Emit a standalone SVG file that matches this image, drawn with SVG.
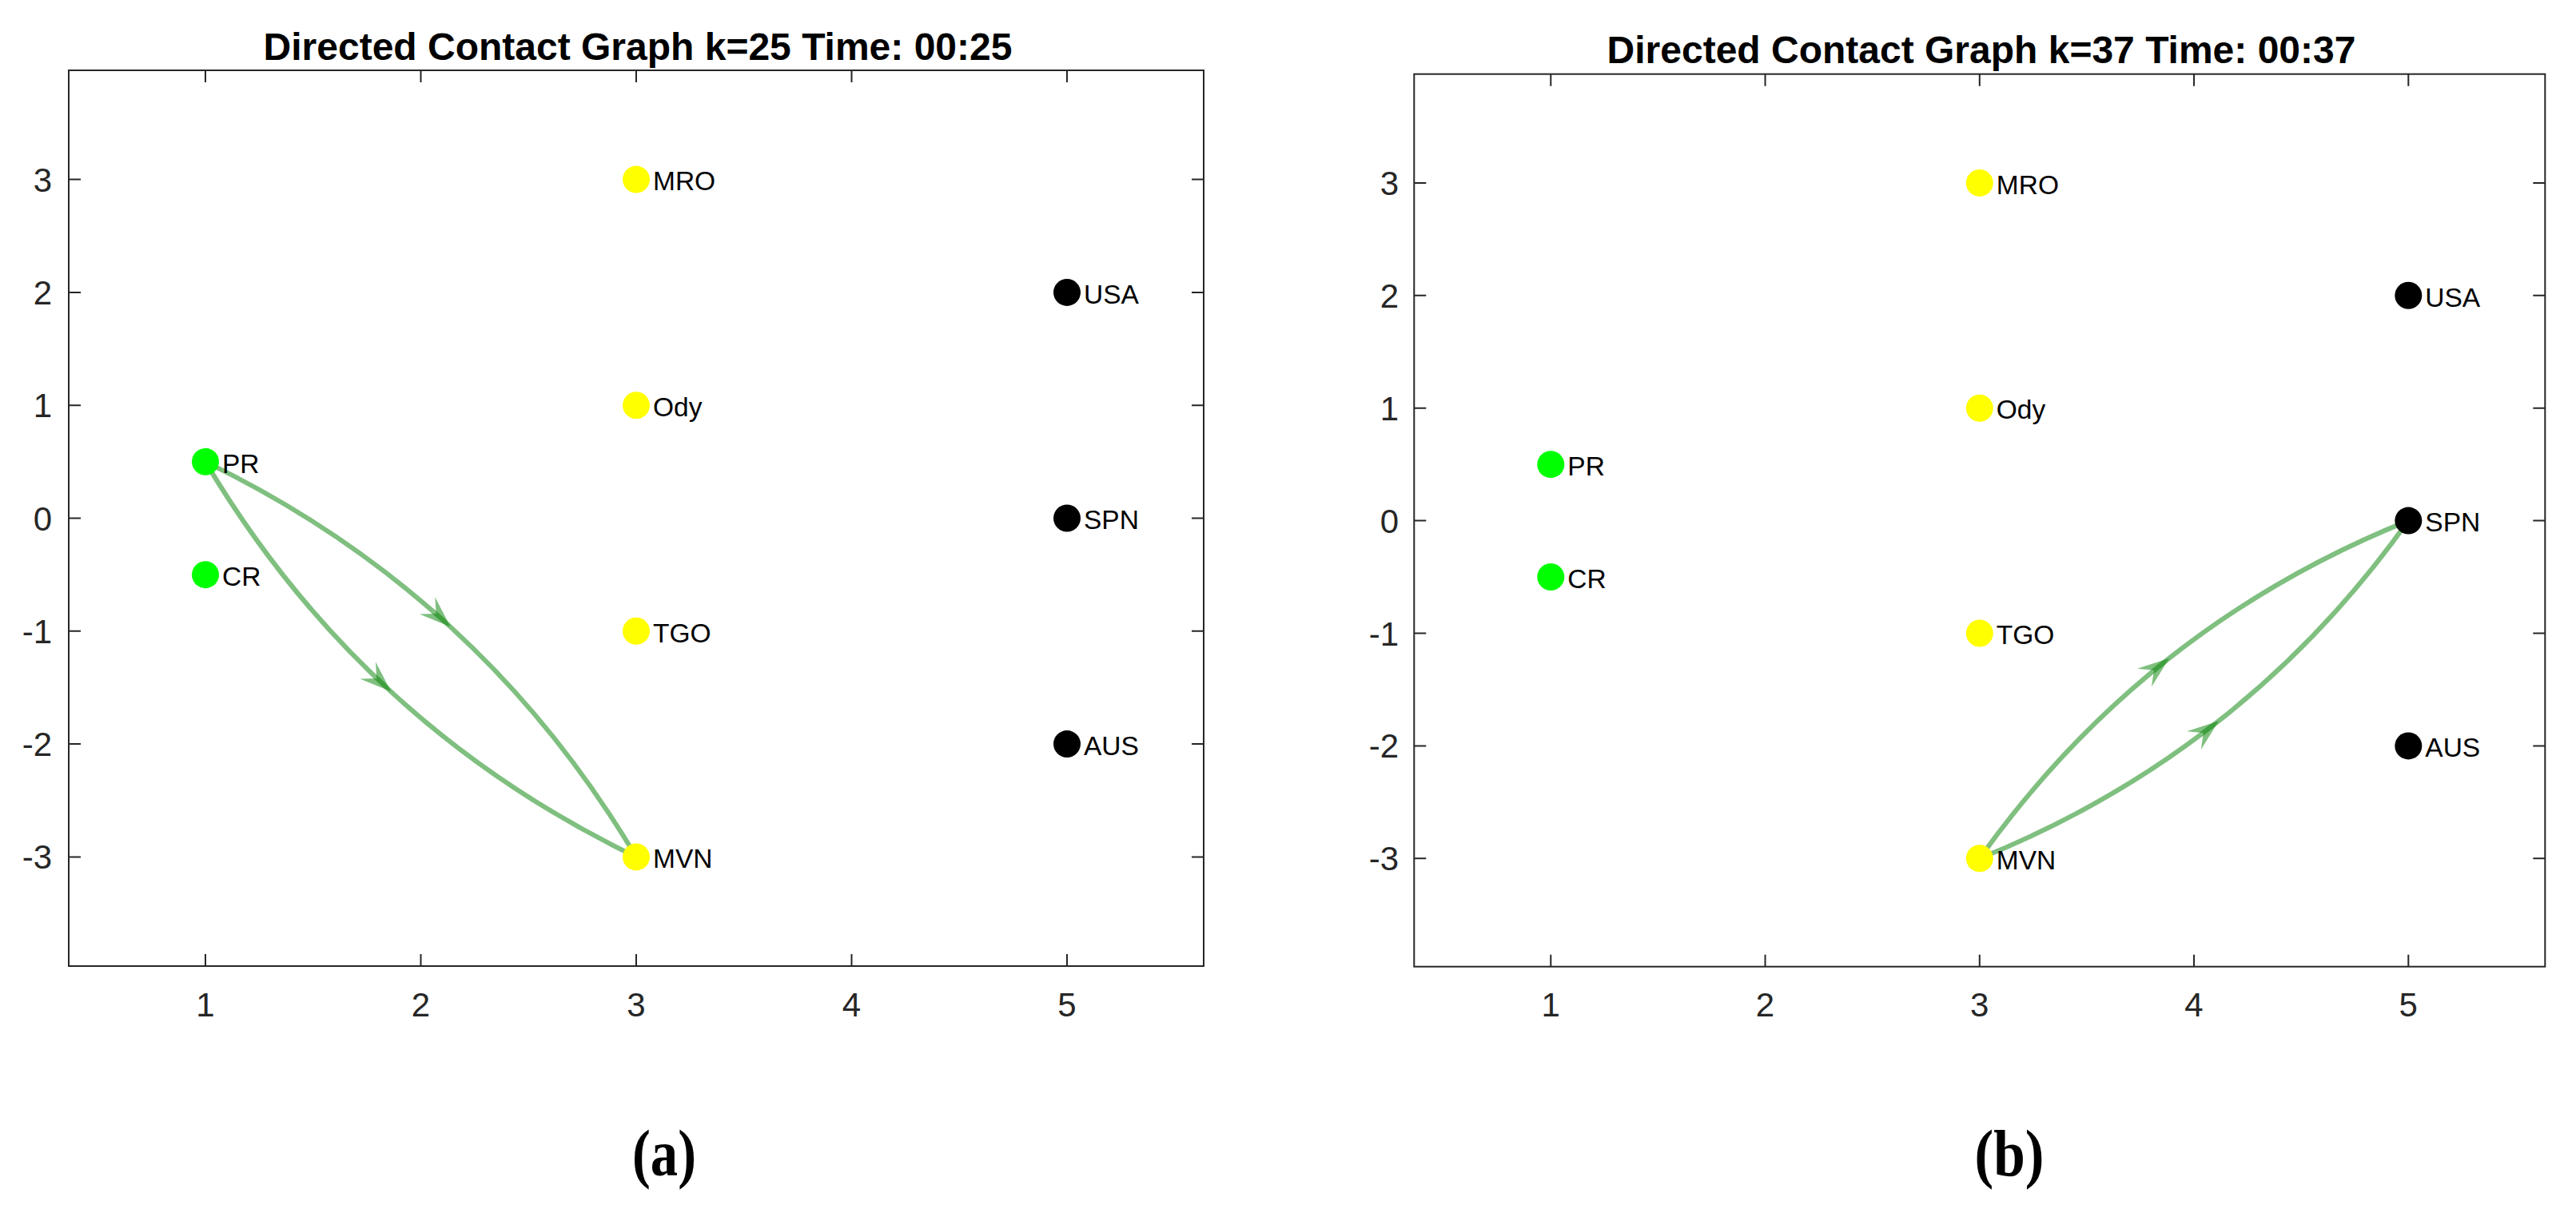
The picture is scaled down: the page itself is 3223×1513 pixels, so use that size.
<svg xmlns="http://www.w3.org/2000/svg" width="3223" height="1513" viewBox="0 0 3223 1513">
<style>
.bg{fill:#ffffff}
.ax{fill:none;stroke:#262626;stroke-width:2}
.tk{fill:none;stroke:#262626;stroke-width:2}
.tl{font-family:"Liberation Sans",Arial,sans-serif;font-size:42px;fill:#262626}
.tx{text-anchor:middle}
.ty{text-anchor:end}
.title{font-family:"Liberation Sans",Arial,sans-serif;font-size:48px;font-weight:bold;fill:#000;text-anchor:middle}
.lbl{font-family:"Liberation Sans",Arial,sans-serif;font-size:33.5px;fill:#000}
.edge{fill:none;stroke:#008000;stroke-opacity:0.5;stroke-width:6;marker-mid:url(#arr)}
.cap{font-family:"Liberation Serif","Times New Roman",serif;font-weight:bold;font-size:83px;fill:#000;text-anchor:middle}
.g{fill:#00ff00}
.y{fill:#ffff00}
.k{fill:#000000}
</style>
<defs>
<marker id="arr" markerUnits="userSpaceOnUse" orient="auto" overflow="visible" markerWidth="1" markerHeight="1" refX="0" refY="0">
<path d="M0,0 L-39.5,-14.4 L-24.5,0 L-39.5,14.4 Z" fill="#008000" fill-opacity="0.5"/>
</marker>
</defs>
<rect class="bg" x="0" y="0" width="3223" height="1513"/>

<!-- Panel (a) axes -->
<g id="axes-a">
<text class="title" x="798" y="75">Directed Contact Graph k=25 Time: 00:25</text>
<rect class="ax" x="86" y="88" width="1420" height="1121"/>
<path class="tk" d="M257,88v15M526.5,88v15M796,88v15M1065.5,88v15M1335,88v15
M257,1209v-15M526.5,1209v-15M796,1209v-15M1065.5,1209v-15M1335,1209v-15
M86,224.6h15M86,365.9h15M86,507.2h15M86,648.5h15M86,789.8h15M86,931.1h15M86,1072.4h15
M1506,224.6h-15M1506,365.9h-15M1506,507.2h-15M1506,648.5h-15M1506,789.8h-15M1506,931.1h-15M1506,1072.4h-15"/>
<g class="tl tx">
<text x="257" y="1272">1</text>
<text x="526.5" y="1272">2</text>
<text x="796" y="1272">3</text>
<text x="1065.5" y="1272">4</text>
<text x="1335" y="1272">5</text>
</g>
<g class="tl ty">
<text x="65" y="239.6">3</text>
<text x="65" y="380.9">2</text>
<text x="65" y="522.2">1</text>
<text x="65" y="663.5">0</text>
<text x="65" y="804.8">-1</text>
<text x="65" y="946.1">-2</text>
<text x="65" y="1087.4">-3</text>
</g>
<text class="cap" x="831" y="1471" textLength="80" lengthAdjust="spacingAndGlyphs">(a)</text>
</g>

<!-- Panel (b) axes -->
<g id="axes-b">
<text class="title" x="2479" y="79">Directed Contact Graph k=37 Time: 00:37</text>
<rect class="ax" x="1769.3" y="92.7" width="1415" height="1117"/>
<path class="tk" d="M1940.3,92.7v15M2208.55,92.7v15M2476.8,92.7v15M2745.05,92.7v15M3013.3,92.7v15
M1940.3,1209.7v-15M2208.55,1209.7v-15M2476.8,1209.7v-15M2745.05,1209.7v-15M3013.3,1209.7v-15
M1769.3,228.9h15M1769.3,369.8h15M1769.3,510.7h15M1769.3,651.6h15M1769.3,792.5h15M1769.3,933.4h15M1769.3,1074.3h15
M3184.3,228.9h-15M3184.3,369.8h-15M3184.3,510.7h-15M3184.3,651.6h-15M3184.3,792.5h-15M3184.3,933.4h-15M3184.3,1074.3h-15"/>
<g class="tl tx">
<text x="1940.3" y="1272">1</text>
<text x="2208.55" y="1272">2</text>
<text x="2476.8" y="1272">3</text>
<text x="2745.05" y="1272">4</text>
<text x="3013.3" y="1272">5</text>
</g>
<g class="tl ty">
<text x="1750" y="243.9">3</text>
<text x="1750" y="384.8">2</text>
<text x="1750" y="525.7">1</text>
<text x="1750" y="666.6">0</text>
<text x="1750" y="807.5">-1</text>
<text x="1750" y="948.4">-2</text>
<text x="1750" y="1089.3">-3</text>
</g>
<text class="cap" x="2514" y="1471" textLength="87" lengthAdjust="spacingAndGlyphs">(b)</text>
</g>

<!-- Connectors -->
<g id="connectors">
<path id="a-PR-MVN-1" class="edge" d="M257,577.85 Q428.95,660.98 563.7,784.6 Q698.45,908.25 796,1072.4"/>
<path id="a-PR-MVN-2" class="edge" d="M257,577.85 Q354.55,741.98 489.3,865.6 Q624.05,989.25 796,1072.4"/>
<path id="b-MVN-SPN-1" class="edge" d="M2476.8,1074.3 Q2580,929.35 2714.1,823.7 Q2848.25,718 3013.3,651.6"/>
<path id="b-MVN-SPN-2" class="edge" d="M2476.8,1074.3 Q2641.85,1007.9 2776,902.2 Q2910.1,796.55 3013.3,651.6"/>
</g>

<!-- Panel (a) nodes -->
<g id="a-PR"><circle class="g" cx="257" cy="577.85" r="17"/><text class="lbl" x="278" y="591.6">PR</text></g>
<g id="a-CR"><circle class="g" cx="257" cy="719.15" r="17"/><text class="lbl" x="278" y="732.9">CR</text></g>
<g id="a-MRO"><circle class="y" cx="796" cy="224.6" r="17"/><text class="lbl" x="817" y="238.3">MRO</text></g>
<g id="a-Ody"><circle class="y" cx="796" cy="507.2" r="17"/><text class="lbl" x="817" y="520.9">Ody</text></g>
<g id="a-TGO"><circle class="y" cx="796" cy="789.8" r="17"/><text class="lbl" x="817" y="803.5">TGO</text></g>
<g id="a-MVN"><circle class="y" cx="796" cy="1072.4" r="17"/><text class="lbl" x="817" y="1086.1">MVN</text></g>
<g id="a-USA"><circle class="k" cx="1335" cy="365.9" r="17"/><text class="lbl" x="1356" y="379.6">USA</text></g>
<g id="a-SPN"><circle class="k" cx="1335" cy="648.5" r="17"/><text class="lbl" x="1356" y="662.2">SPN</text></g>
<g id="a-AUS"><circle class="k" cx="1335" cy="931.1" r="17"/><text class="lbl" x="1356" y="944.8">AUS</text></g>

<!-- Panel (b) nodes -->
<g id="b-PR"><circle class="g" cx="1940.3" cy="581.15" r="17"/><text class="lbl" x="1961.3" y="594.9">PR</text></g>
<g id="b-CR"><circle class="g" cx="1940.3" cy="722.05" r="17"/><text class="lbl" x="1961.3" y="735.8">CR</text></g>
<g id="b-MRO"><circle class="y" cx="2476.8" cy="228.9" r="17"/><text class="lbl" x="2497.8" y="242.6">MRO</text></g>
<g id="b-Ody"><circle class="y" cx="2476.8" cy="510.7" r="17"/><text class="lbl" x="2497.8" y="524.4">Ody</text></g>
<g id="b-TGO"><circle class="y" cx="2476.8" cy="792.5" r="17"/><text class="lbl" x="2497.8" y="806.2">TGO</text></g>
<g id="b-MVN"><circle class="y" cx="2476.8" cy="1074.3" r="17"/><text class="lbl" x="2497.8" y="1088">MVN</text></g>
<g id="b-USA"><circle class="k" cx="3013.3" cy="369.8" r="17"/><text class="lbl" x="3034.3" y="383.5">USA</text></g>
<g id="b-SPN"><circle class="k" cx="3013.3" cy="651.6" r="17"/><text class="lbl" x="3034.3" y="665.3">SPN</text></g>
<g id="b-AUS"><circle class="k" cx="3013.3" cy="933.4" r="17"/><text class="lbl" x="3034.3" y="947.1">AUS</text></g>
</svg>
